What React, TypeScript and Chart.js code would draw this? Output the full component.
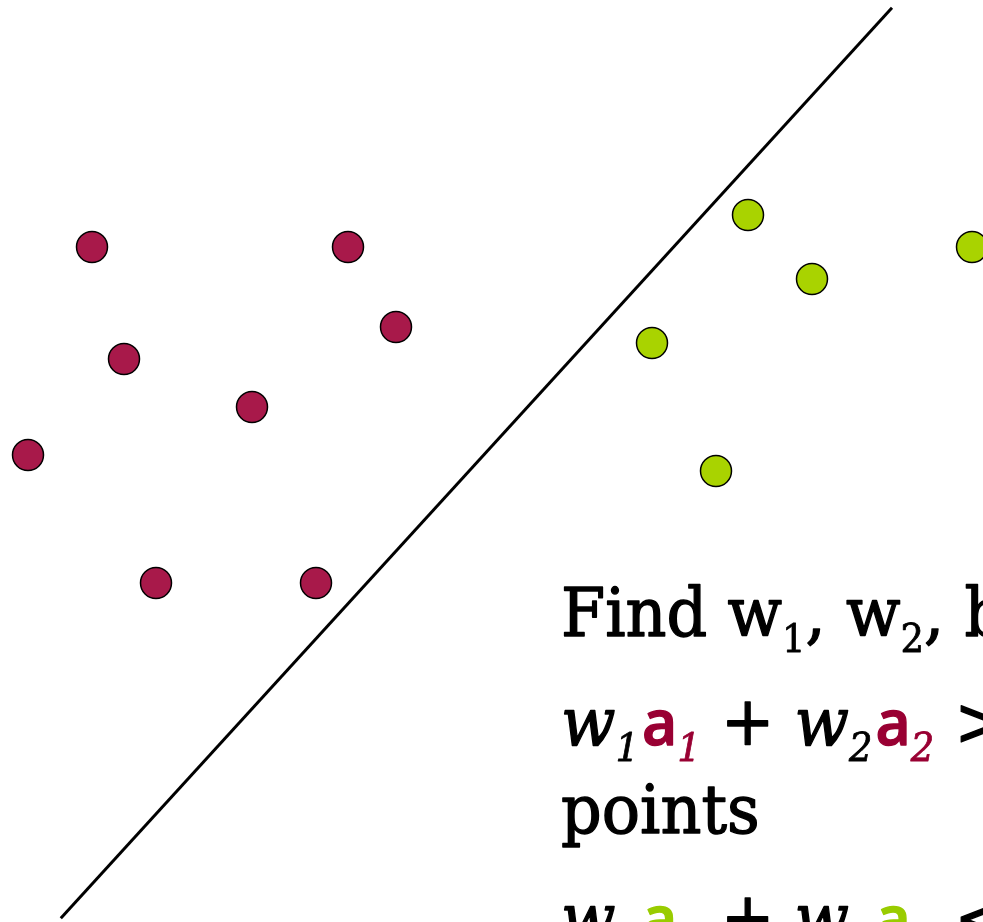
import React, { useEffect, useRef } from "react";
import { Chart, registerables } from "chart.js";

Chart.register(...registerables);

// Feature-space samples (grid units): a1 on x, a2 on y (y grows downward)
const redA1 = [5, 21, 24, 7, 15, 1, 9, 19];
const redA2 = [15, 15, 20, 22, 25, 28, 36, 36];
const greenA1 = [46, 60, 50, 40, 44];
const greenA2 = [13, 15, 17, 21, 29];

// Separating line end points
const boundaryA1 = [3.05, 55];
const boundaryA2 = [56.95, 0.05];

const RED = "#A8194A";
const GREEN = "#A9D300";
const RED_TEXT = "#990033";
const GREEN_TEXT = "#99CC00";

type Run = { t: string; color?: string; italic?: boolean; sub?: boolean; sans?: boolean };

const FAMILY = '"DejaVu Serif", serif';
const SANS = '"Open Sans", "Noto Sans", sans-serif';
const SIZE = 67;
const SUB = 39;
const SQUEEZE = 0.95;

const line1: Run[] = [
  { t: "Find w" },
  { t: "1", sub: true },
  { t: ", w" },
  { t: "2", sub: true },
  { t: ", b such that" },
];

const eq = (c: string, tail: string): Run[] => [
  { t: "w", italic: true },
  { t: "1", italic: true, sub: true },
  { t: "a", sans: true, color: c },
  { t: "1", italic: true, sub: true, color: c },
  { t: " + " },
  { t: "w", italic: true },
  { t: "2", italic: true, sub: true },
  { t: "a", sans: true, color: c },
  { t: "2", italic: true, sub: true, color: c },
  { t: tail },
];

const line2 = eq(RED_TEXT, " > b for red");
const line3: Run[] = [{ t: "points" }];
const line4 = eq(GREEN_TEXT, " < b for green");

function drawRuns(ctx: CanvasRenderingContext2D, runs: Run[], x: number, y: number) {
  ctx.save();
  ctx.translate(x, y);
  ctx.scale(SQUEEZE, 1);
  let cx = 0;
  for (const r of runs) {
    if (r.sans) {
      ctx.font = `600 64px ${SANS}`;
    } else {
      const size = r.sub ? SUB : SIZE;
      ctx.font = `${r.italic ? "italic " : ""}${size}px ${FAMILY}`;
    }
    const color = r.color || "#000";
    ctx.fillStyle = color;
    ctx.strokeStyle = color;
    ctx.lineWidth = r.sub ? 0.8 : 1.4;
    ctx.lineJoin = "round";
    ctx.textBaseline = "alphabetic";
    const dy = r.sub ? 16 : 0;
    const dx = r.sans ? 3 : 0;
    ctx.fillText(r.t, cx + dx, dy);
    ctx.strokeText(r.t, cx + dx, dy);
    cx += ctx.measureText(r.t).width + dx;
  }
  ctx.restore();
}

const textPlugin = {
  id: "conditionText",
  afterDraw(chart: Chart) {
    const ctx = chart.ctx;
    drawRuns(ctx, line1, 561, 636);
    drawRuns(ctx, line2, 561, 745);
    drawRuns(ctx, line3, 561, 833);
    drawRuns(ctx, line4, 561, 941);
  },
};

export default function App() {
  const ref = useRef<HTMLCanvasElement>(null);

  useEffect(() => {
    document.body.style.margin = "0";
    if (!ref.current) return;
    const chart = new Chart(ref.current, {
      type: "scatter",
      data: {
        datasets: [
          {
            type: "line",
            data: boundaryA1.map((x, i) => ({ x, y: boundaryA2[i] })),
            borderColor: "#000",
            borderWidth: 3,
            pointRadius: 0,
            fill: false,
            clip: false as any,
          },
          {
            data: redA1.map((x, i) => ({ x, y: redA2[i] })),
            backgroundColor: RED,
            borderColor: "#000",
            borderWidth: 1.5,
            pointRadius: 15.5,
          },
          {
            data: greenA1.map((x, i) => ({ x, y: greenA2[i] })),
            backgroundColor: GREEN,
            borderColor: "#000",
            borderWidth: 1.5,
            pointRadius: 15.5,
          },
        ],
      },
      options: {
        responsive: false,
        animation: false,
        layout: { padding: 0, autoPadding: false },
        plugins: { legend: { display: false }, tooltip: { enabled: false } },
        scales: {
          x: { type: "linear", display: false, min: -0.75, max: 60.6875 },
          y: { type: "linear", display: false, reverse: true, min: -0.4375, max: 57.1875 },
        },
      },
      plugins: [textPlugin],
    });
    return () => chart.destroy();
  }, []);

  return (
    <div style={{ width: 983, height: 922, background: "#fff" }}>
      <canvas ref={ref} width={983} height={922} style={{ display: "block" }} />
    </div>
  );
}
